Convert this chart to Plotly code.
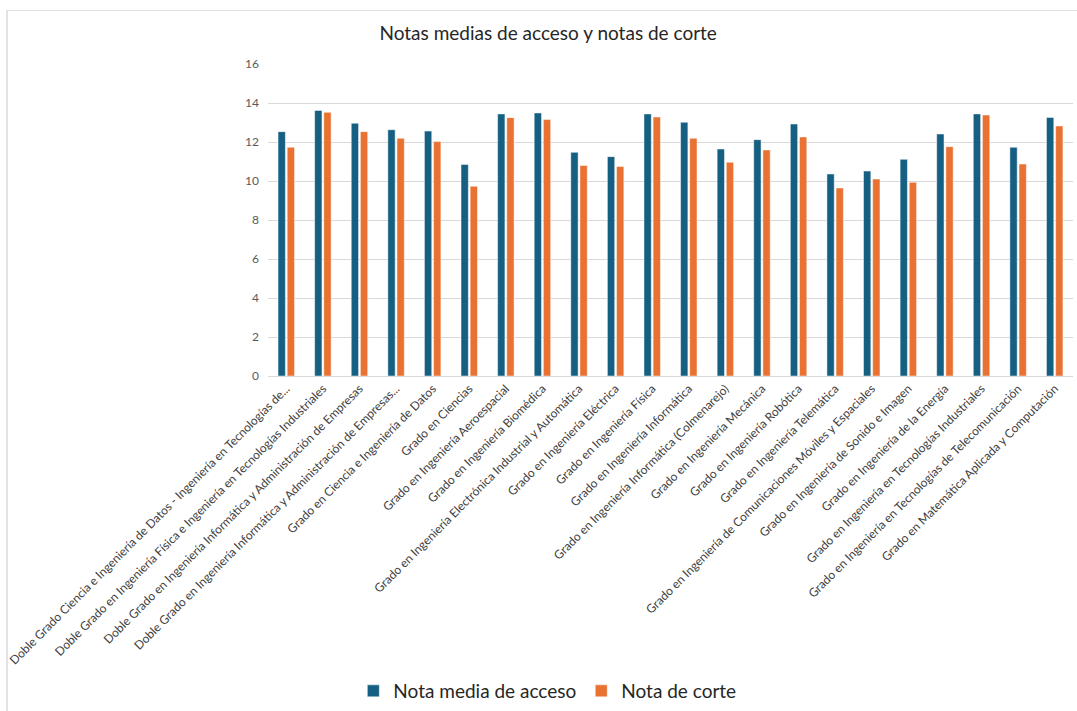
import plotly.graph_objects as go

categories = [
    "Doble Grado Ciencia e Ingeniería de Datos - Ingeniería en Tecnologías de...",
    "Doble Grado en Ingeniería Física e Ingeniería en Tecnologías Industriales",
    "Doble Grado en Ingeniería Informática y Administración de Empresas",
    "Doble Grado en Ingeniería Informática y Administración de Empresas...",
    "Grado en Ciencia e Ingeniería de Datos",
    "Grado en Ciencias",
    "Grado en Ingeniería Aeroespacial",
    "Grado en Ingeniería Biomédica",
    "Grado en Ingeniería Electrónica Industrial y Automática",
    "Grado en Ingeniería Eléctrica",
    "Grado en Ingeniería Física",
    "Grado en Ingeniería Informática",
    "Grado en Ingeniería Informática (Colmenarejo)",
    "Grado en Ingeniería Mecánica",
    "Grado en Ingeniería Robótica",
    "Grado en Ingeniería Telemática",
    "Grado en Ingeniería de Comunicaciones Móviles y Espaciales",
    "Grado en Ingeniería de Sonido e Imagen",
    "Grado en Ingeniería de la Energía",
    "Grado en Ingeniería en Tecnologías Industriales",
    "Grado en Ingeniería en Tecnologías de Telecomunicación",
    "Grado en Matemática Aplicada y Computación",
]

nota_media = [12.53, 13.62, 12.96, 12.63, 12.56, 10.85, 13.44, 13.49, 11.47, 11.25, 13.44,
              13.01, 11.64, 12.12, 12.92, 10.36, 10.51, 11.11, 12.41, 13.44, 11.73, 13.26]
nota_corte = [11.73, 13.52, 12.53, 12.19, 12.02, 9.73, 13.25, 13.15, 10.80, 10.74, 13.28,
              12.19, 10.96, 11.59, 12.26, 9.64, 10.10, 9.93, 11.76, 13.38, 10.87, 12.82]

y_ticks = [0, 2, 4, 6, 8, 10, 12, 14, 16]

FONT = "Lato"

fig = go.Figure()
fig.add_trace(go.Bar(
    x=categories, y=nota_media, name="Nota media de acceso",
    marker=dict(color="#156082", line=dict(color="rgba(255,255,255,0.6)", width=0.8)),
))
fig.add_trace(go.Bar(
    x=categories, y=nota_corte, name="Nota de corte",
    marker=dict(color="#E97132", line=dict(color="rgba(255,255,255,0.6)", width=0.8)),
))

PW, PH = 805, 312  # plot area size in px
def px_x(x):
    return (x - 268) / PW
def px_y(y):
    return (376 - y) / PH

fig.update_layout(
    width=1077, height=711,
    margin=dict(l=268, r=4, t=64, b=335, autoexpand=False),
    paper_bgcolor="white", plot_bgcolor="white",
    barmode="group", bargap=0.5, bargroupgap=0.2,
    font=dict(family=FONT, color="#595959"),
    title=dict(text="Notas medias de acceso y notas de corte",
               x=0.509, xref="container", xanchor="center",
               y=1 - 33 / 711, yref="container", yanchor="middle",
               font=dict(size=19, color="#262626", family=FONT)),
    showlegend=True,
    legend=dict(orientation="h", x=0.347, xanchor="center",
                y=px_y(691), yanchor="middle",
                font=dict(size=19, color="#262626", family=FONT),
                traceorder="normal"),
    xaxis=dict(
        type="category", tickangle=-45, tickfont=dict(size=12, color="#404040"),
        showline=True, linecolor="#d9d9d9", linewidth=1, ticks="", showgrid=False,
        automargin=False,
    ),
    yaxis=dict(
        range=[0, 16], tickvals=y_ticks, ticktext=[str(v) for v in y_ticks],
        showgrid=True, gridcolor="#d9d9d9", gridwidth=1, zeroline=False,
        tickfont=dict(size=12, color="#595959"), ticks="", ticklabelstandoff=8,
        automargin=False,
    ),
    shapes=[
        dict(type="line", xref="paper", yref="paper",
             x0=px_x(7), x1=px_x(1080), y0=px_y(10.5), y1=px_y(10.5),
             line=dict(color="#e0e0e0", width=1), layer="below"),
        dict(type="line", xref="paper", yref="paper",
             x0=px_x(7), x1=px_x(7), y0=px_y(10.5), y1=px_y(715),
             line=dict(color="#d9d9d9", width=1.5), layer="below"),
    ],
)

fig.write_html("out.html", config={"displayModeBar": False},
               post_script="document.body.style.margin='0';")
